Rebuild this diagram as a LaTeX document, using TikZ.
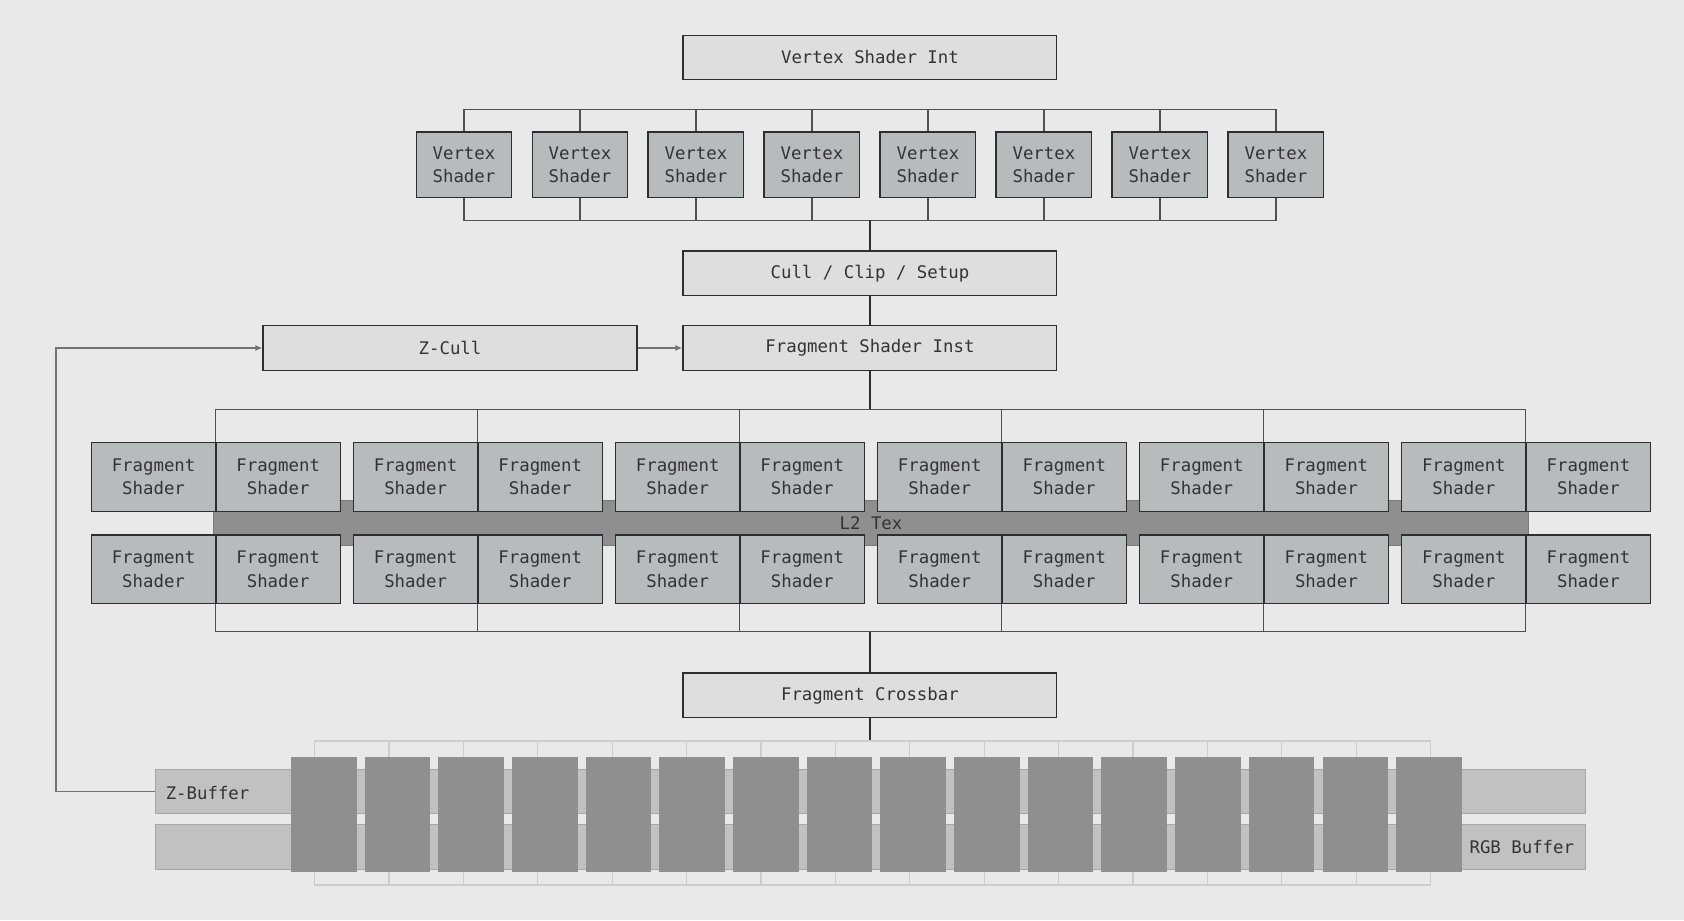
\documentclass[tikz,border=0pt]{standalone}
\usepackage{fontspec}
\setmonofont{DejaVu Sans Mono}
\usetikzlibrary{arrows.meta}
\definecolor{bgcol}{HTML}{E9E9E9}
\definecolor{unitfill}{HTML}{DEDEDE}
\definecolor{shaderfill}{HTML}{B8BBBB}
\definecolor{darkfill}{HTML}{8E8F8E}
\definecolor{buffill}{HTML}{C0C1C0}
\definecolor{bufedge}{HTML}{A6A6A6}
\definecolor{gridcol}{HTML}{CDCDCD}
\definecolor{edgecol}{HTML}{2E2E2E}
\definecolor{textcol}{HTML}{333333}
\definecolor{buscol}{HTML}{505050}
\begin{document}
\begin{tikzpicture}[
  font=\ttfamily\fontsize{9.2}{12.5}\selectfont, text=textcol,
  unit/.style={draw=edgecol, line width=0.7pt, fill=unitfill, minimum width=6.96cm, minimum height=0.83cm, inner sep=0pt},
  vshader/.style={draw=edgecol, line width=0.7pt, fill=shaderfill, minimum width=1.78cm, minimum height=1.22cm, inner sep=0pt, align=center},
  fshader/.style={draw=edgecol, line width=0.7pt, fill=shaderfill, minimum width=2.32cm, minimum height=1.28cm, inner sep=0pt, align=center},
  buffer/.style={draw=bufedge, line width=0.6pt, fill=buffill, minimum width=26.62cm, minimum height=0.83cm, inner sep=0pt},
  block/.style={fill=darkfill, minimum width=1.22cm, minimum height=2.14cm, inner sep=0pt},
  wire/.style={draw=edgecol, line width=0.7pt},
  bus/.style={draw=buscol, line width=0.7pt},
  gridline/.style={draw=gridcol, line width=0.6pt},
  feed/.style={draw=buscol!80, line width=0.7pt, -{Latex[length=1.3mm, width=1.1mm]}}]
\useasboundingbox (0, 0) rectangle (31.36, 17.14);
\fill [bgcol] (0, 0) rectangle (31.36, 17.14);
% vertex stage
\node [unit] (vsi) at (16.2, 16.07) {Vertex Shader Int};
\node [vshader] (vs1) at (8.64, 14.07) {Vertex\\Shader};
\node [vshader] (vs2) at (10.80, 14.07) {Vertex\\Shader};
\node [vshader] (vs3) at (12.96, 14.07) {Vertex\\Shader};
\node [vshader] (vs4) at (15.12, 14.07) {Vertex\\Shader};
\node [vshader] (vs5) at (17.28, 14.07) {Vertex\\Shader};
\node [vshader] (vs6) at (19.44, 14.07) {Vertex\\Shader};
\node [vshader] (vs7) at (21.60, 14.07) {Vertex\\Shader};
\node [vshader] (vs8) at (23.76, 14.07) {Vertex\\Shader};
\coordinate (vtop) at (16.2, 15.1);
\coordinate (vbot) at (16.2, 13.04);
\draw [bus] (vs1.north) |- (vtop);
\draw [bus] (vs2.north) |- (vtop);
\draw [bus] (vs3.north) |- (vtop);
\draw [bus] (vs4.north) |- (vtop);
\draw [bus] (vs5.north) |- (vtop);
\draw [bus] (vs6.north) |- (vtop);
\draw [bus] (vs7.north) |- (vtop);
\draw [bus] (vs8.north) |- (vtop);
\draw [bus] (vs1.south) |- (vbot);
\draw [bus] (vs2.south) |- (vbot);
\draw [bus] (vs3.south) |- (vbot);
\draw [bus] (vs4.south) |- (vbot);
\draw [bus] (vs5.south) |- (vbot);
\draw [bus] (vs6.south) |- (vbot);
\draw [bus] (vs7.south) |- (vbot);
\draw [bus] (vs8.south) |- (vbot);
% setup and fragment issue
\node [unit] (cull) at (16.2, 12.05) {Cull / Clip / Setup};
\node [unit] (fsi) at (16.2, 10.66) {Fragment Shader Inst};
\node [unit] (zcull) at (8.38, 10.66) {Z-Cull};
\draw [wire] (vbot) -- (cull.north);
\draw [wire] (cull.south) -- (fsi.north);
\draw [feed] (zcull.east) -- (fsi.west);
% fragment stage
\node [fill=darkfill, draw=darkfill!85!black, line width=0.5pt, minimum width=24.48cm, minimum height=0.84cm, inner sep=0pt] (l2) at (16.22, 7.40) {L2 Tex};
\node [fshader] (f1a) at (2.86, 8.26) {Fragment\\Shader};
\node [fshader] (f1b) at (5.18, 8.26) {Fragment\\Shader};
\node [fshader] (f2a) at (7.74, 8.26) {Fragment\\Shader};
\node [fshader] (f2b) at (10.06, 8.26) {Fragment\\Shader};
\node [fshader] (f3a) at (12.62, 8.26) {Fragment\\Shader};
\node [fshader] (f3b) at (14.94, 8.26) {Fragment\\Shader};
\node [fshader] (f4a) at (17.50, 8.26) {Fragment\\Shader};
\node [fshader] (f4b) at (19.82, 8.26) {Fragment\\Shader};
\node [fshader] (f5a) at (22.38, 8.26) {Fragment\\Shader};
\node [fshader] (f5b) at (24.70, 8.26) {Fragment\\Shader};
\node [fshader] (f6a) at (27.26, 8.26) {Fragment\\Shader};
\node [fshader] (f6b) at (29.58, 8.26) {Fragment\\Shader};
\node [fshader] (g1a) at (2.86, 6.54) {Fragment\\Shader};
\node [fshader] (g1b) at (5.18, 6.54) {Fragment\\Shader};
\node [fshader] (g2a) at (7.74, 6.54) {Fragment\\Shader};
\node [fshader] (g2b) at (10.06, 6.54) {Fragment\\Shader};
\node [fshader] (g3a) at (12.62, 6.54) {Fragment\\Shader};
\node [fshader] (g3b) at (14.94, 6.54) {Fragment\\Shader};
\node [fshader] (g4a) at (17.50, 6.54) {Fragment\\Shader};
\node [fshader] (g4b) at (19.82, 6.54) {Fragment\\Shader};
\node [fshader] (g5a) at (22.38, 6.54) {Fragment\\Shader};
\node [fshader] (g5b) at (24.70, 6.54) {Fragment\\Shader};
\node [fshader] (g6a) at (27.26, 6.54) {Fragment\\Shader};
\node [fshader] (g6b) at (29.58, 6.54) {Fragment\\Shader};
\coordinate (ftop) at (16.2, 9.52);
\coordinate (fbot) at (16.2, 5.38);
\draw [wire] (fsi.south) -- (ftop);
\draw [bus] (f1b.north west) |- (ftop);
\draw [bus] (f2b.north west) |- (ftop);
\draw [bus] (f3b.north west) |- (ftop);
\draw [bus] (f4b.north west) |- (ftop);
\draw [bus] (f5b.north west) |- (ftop);
\draw [bus] (f6b.north west) |- (ftop);
\draw [bus] (g1b.south west) |- (fbot);
\draw [bus] (g2b.south west) |- (fbot);
\draw [bus] (g3b.south west) |- (fbot);
\draw [bus] (g4b.south west) |- (fbot);
\draw [bus] (g5b.south west) |- (fbot);
\draw [bus] (g6b.south west) |- (fbot);
% crossbar and memory
\node [unit] (xbar) at (16.2, 4.19) {Fragment Crossbar};
\draw [wire] (fbot) -- (xbar.north);
\node [draw=gridcol, line width=0.6pt, minimum width=20.78cm, minimum height=2.68cm, inner sep=0pt] (mem) at (16.25, 2.0) {};
\draw [wire] (xbar.south) -- (mem.north -| xbar.south);
\draw [gridline] (7.245, 3.34) -- (7.245, 0.66);
\draw [gridline] (8.631, 3.34) -- (8.631, 0.66);
\draw [gridline] (10.016, 3.34) -- (10.016, 0.66);
\draw [gridline] (11.401, 3.34) -- (11.401, 0.66);
\draw [gridline] (12.787, 3.34) -- (12.787, 0.66);
\draw [gridline] (14.172, 3.34) -- (14.172, 0.66);
\draw [gridline] (15.557, 3.34) -- (15.557, 0.66);
\draw [gridline] (16.943, 3.34) -- (16.943, 0.66);
\draw [gridline] (18.328, 3.34) -- (18.328, 0.66);
\draw [gridline] (19.713, 3.34) -- (19.713, 0.66);
\draw [gridline] (21.099, 3.34) -- (21.099, 0.66);
\draw [gridline] (22.484, 3.34) -- (22.484, 0.66);
\draw [gridline] (23.869, 3.34) -- (23.869, 0.66);
\draw [gridline] (25.255, 3.34) -- (25.255, 0.66);
\node [buffer] (zbuf) at (16.21, 2.40) {};
\node [buffer] (rgbbuf) at (16.21, 1.37) {};
\node [anchor=west, inner sep=0pt] (zlabel) at (3.08, 2.38) {Z-Buffer};
\node [anchor=east, inner sep=0pt] (rgblabel) at (29.32, 1.36) {RGB Buffer};
\node [block] (b1) at (6.03, 1.97) {};
\node [block] (b2) at (7.402, 1.97) {};
\node [block] (b3) at (8.774, 1.97) {};
\node [block] (b4) at (10.146, 1.97) {};
\node [block] (b5) at (11.518, 1.97) {};
\node [block] (b6) at (12.89, 1.97) {};
\node [block] (b7) at (14.262, 1.97) {};
\node [block] (b8) at (15.634, 1.97) {};
\node [block] (b9) at (17.006, 1.97) {};
\node [block] (b10) at (18.378, 1.97) {};
\node [block] (b11) at (19.75, 1.97) {};
\node [block] (b12) at (21.122, 1.97) {};
\node [block] (b13) at (22.494, 1.97) {};
\node [block] (b14) at (23.866, 1.97) {};
\node [block] (b15) at (25.238, 1.97) {};
\node [block] (b16) at (26.61, 1.97) {};
% z feedback
\coordinate (bend) at (1.04, 2.40);
\draw [feed] (zbuf.west) -- (bend) |- (zcull.west);
\end{tikzpicture}
\end{document}
